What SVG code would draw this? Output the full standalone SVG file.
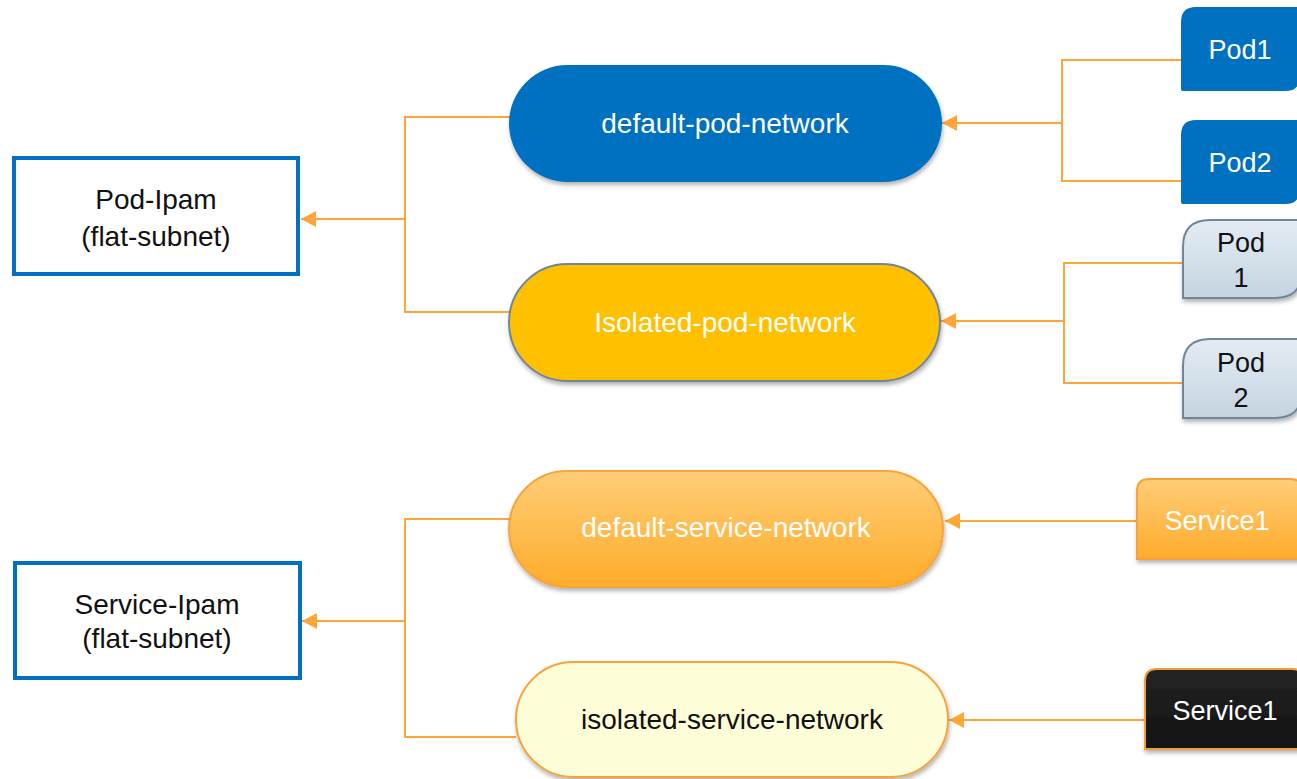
<svg xmlns="http://www.w3.org/2000/svg" width="1297" height="779" viewBox="0 0 1297 779">
<defs>
  <linearGradient id="gOrange" x1="0" y1="0" x2="0" y2="1">
    <stop offset="0" stop-color="#FFCD78"/>
    <stop offset="1" stop-color="#FFAC2A"/>
  </linearGradient>
  <linearGradient id="gGray" x1="0" y1="0" x2="0" y2="1">
    <stop offset="0" stop-color="#E4ECF3"/>
    <stop offset="1" stop-color="#C4D4E1"/>
  </linearGradient>
  <linearGradient id="gBlack" x1="0" y1="0" x2="0" y2="1">
    <stop offset="0" stop-color="#242424"/>
    <stop offset="1" stop-color="#121212"/>
  </linearGradient>
  <filter id="shadow" x="-10%" y="-10%" width="120%" height="130%">
    <feDropShadow dx="1" dy="3" stdDeviation="2" flood-color="#000" flood-opacity="0.3"/>
  </filter>
  <marker id="arrow" markerUnits="userSpaceOnUse" markerWidth="16" markerHeight="16" viewBox="0 0 16 16" refX="15" refY="8" orient="auto">
    <path d="M0,0 L15,8 L0,16 Z" fill="#FFA53A"/>
  </marker>
</defs>
<style>
  .conn { stroke: #FFA53A; stroke-width: 2; fill: none; }
  .ipam { fill: #FFFFFF; stroke: #0070C0; stroke-width: 4; }
  .t { font-family: "Liberation Sans", Arial, sans-serif; font-size: 28px; text-anchor: middle; }
  .s { font-size: 27px; }
  .w { fill: #FFFFFF; }
  .b { fill: #111111; }
</style>

<g id="connectors">
  <polyline class="conn" points="514,117 405,117 405,312 511,312"/>
  <line class="conn" x1="405" y1="219" x2="301" y2="219" marker-end="url(#arrow)"/>
  <polyline class="conn" points="510,519 405,519 405,737 516,737"/>
  <line class="conn" x1="405" y1="621" x2="302" y2="621" marker-end="url(#arrow)"/>
  <polyline class="conn" points="1187,60 1062,60 1062,181 1183,181"/>
  <line class="conn" x1="1062" y1="123" x2="942" y2="123" marker-end="url(#arrow)"/>
  <polyline class="conn" points="1183,263 1064,263 1064,383 1183,383"/>
  <line class="conn" x1="1064" y1="321" x2="941" y2="321" marker-end="url(#arrow)"/>
  <line class="conn" x1="1137" y1="521" x2="945" y2="521" marker-end="url(#arrow)"/>
  <line class="conn" x1="1145" y1="720" x2="949" y2="720" marker-end="url(#arrow)"/>
</g>

<g id="pod-ipam">
  <rect class="ipam" x="14" y="158" width="284" height="116"/>
  <text class="t b" x="156" y="209">Pod-Ipam</text>
  <text class="t b" x="156" y="246">(flat-subnet)</text>
</g>

<g id="service-ipam">
  <rect class="ipam" x="15" y="563" width="285" height="115"/>
  <text class="t b" x="157" y="614">Service-Ipam</text>
  <text class="t b" x="157" y="648">(flat-subnet)</text>
</g>

<g id="default-pod-network">
  <rect x="509" y="65" width="433" height="117" rx="58.5" fill="#0070C0" filter="url(#shadow)"/>
  <text class="t w" x="725" y="133">default-pod-network</text>
</g>

<g id="isolated-pod-network">
  <rect x="509" y="264" width="431" height="117" rx="58.5" fill="#FFC000" stroke="#6F8799" stroke-width="2" filter="url(#shadow)"/>
  <text class="t w" x="725" y="332">Isolated-pod-network</text>
</g>

<g id="default-service-network">
  <rect x="509" y="471" width="434" height="116" rx="58" fill="url(#gOrange)" stroke="#F9A33B" stroke-width="2" filter="url(#shadow)"/>
  <text class="t w" x="726" y="537">default-service-network</text>
</g>

<g id="isolated-service-network">
  <rect x="516" y="662" width="432" height="115" rx="57.5" fill="#FDFDD8" stroke="#F8A23A" stroke-width="2" filter="url(#shadow)"/>
  <text class="t b" x="732" y="729">isolated-service-network</text>
</g>

<g id="pod1-blue">
  <path d="M1181,89 L1181,22 Q1181,7 1196,7 L1300,7 L1300,76 Q1300,91 1285,91 L1183,91 Q1181,91 1181,89 Z" fill="#0070C0"/>
  <text class="t s w" x="1240" y="59">Pod1</text>
</g>

<g id="pod2-blue">
  <path d="M1181,202 L1181,135 Q1181,120 1196,120 L1300,120 L1300,189 Q1300,204 1285,204 L1183,204 Q1181,204 1181,202 Z" fill="#0070C0"/>
  <text class="t s w" x="1240" y="172">Pod2</text>
</g>

<g id="pod1-gray">
  <path d="M1183,298 L1183,247 Q1183,220 1210,220 L1302,220 L1302,271 Q1302,298 1275,298 Z" fill="url(#gGray)" stroke="#6F8799" stroke-width="2" filter="url(#shadow)"/>
  <text class="t s b" x="1241" y="252">Pod</text>
  <text class="t s b" x="1241" y="287">1</text>
</g>

<g id="pod2-gray">
  <path d="M1183,418 L1183,366 Q1183,339 1210,339 L1302,339 L1302,391 Q1302,418 1275,418 Z" fill="url(#gGray)" stroke="#6F8799" stroke-width="2" filter="url(#shadow)"/>
  <text class="t s b" x="1241" y="372">Pod</text>
  <text class="t s b" x="1241" y="407">2</text>
</g>

<g id="service1-orange">
  <path d="M1137,559 L1137,491 Q1137,479 1149,479 L1290,479 Q1302,479 1302,491 L1302,559 Z" fill="url(#gOrange)" stroke="#F9A23A" stroke-width="2" filter="url(#shadow)"/>
  <text class="t s w" x="1217" y="530">Service1</text>
</g>

<g id="service1-black">
  <path d="M1145,749 L1145,681 Q1145,669 1157,669 L1292,669 Q1304,669 1304,681 L1304,749 Z" fill="url(#gBlack)" stroke="#F0A030" stroke-width="2" filter="url(#shadow)"/>
  <text class="t s w" x="1225" y="720">Service1</text>
</g>
</svg>
